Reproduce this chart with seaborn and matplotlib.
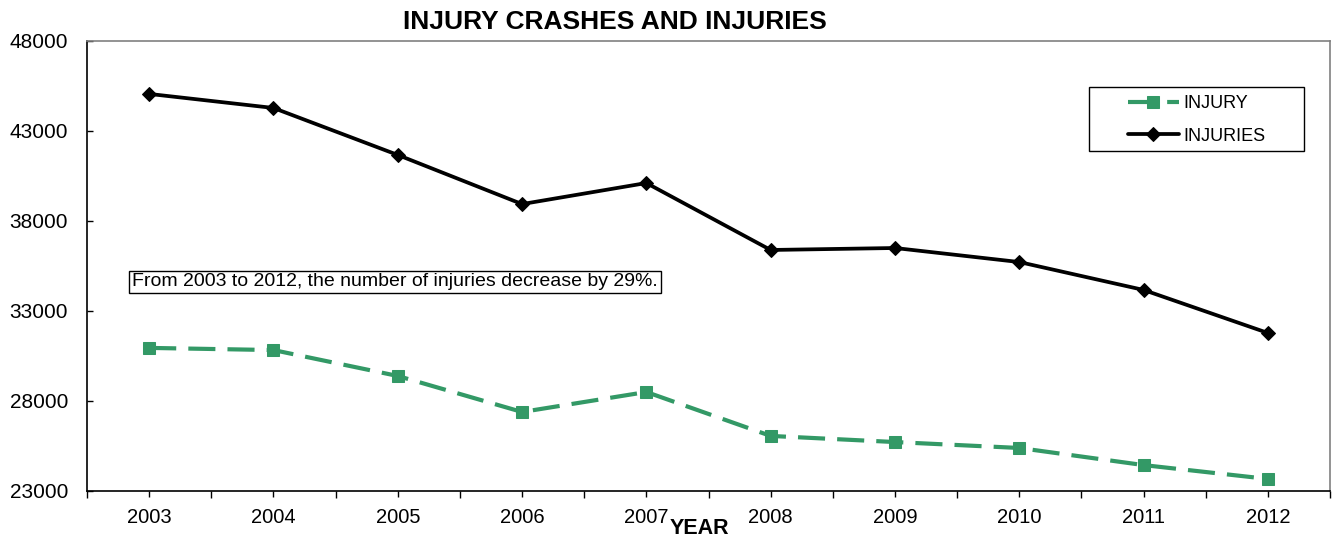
import matplotlib
matplotlib.use("Agg")
import matplotlib.pyplot as plt
from matplotlib.patches import Rectangle
from matplotlib.ticker import FixedLocator
import seaborn as sns
import pandas as pd

years = [2003, 2004, 2005, 2006, 2007, 2008, 2009, 2010, 2011, 2012]
injury = [30950, 30830, 29390, 27390, 28500, 26060, 25720, 25390, 24440, 23670]
injuries = [45060, 44280, 41670, 38940, 40110, 36390, 36500, 35720, 34170, 31780]
y_ticks = [23000, 28000, 33000, 38000, 43000, 48000]

title = "INJURY CRASHES AND INJURIES"
xlabel = "YEAR"
note = "From 2003 to 2012, the number of injuries decrease by 29%."

GREEN = "#339966"

sns.set_style("white")
plt.rcParams["font.family"] = ["Liberation Sans", "DejaVu Sans"]
plt.rcParams["text.color"] = "black"
plt.rcParams["xtick.color"] = "black"
plt.rcParams["ytick.color"] = "black"
plt.rcParams["ytick.direction"] = "in"
plt.rcParams["xtick.direction"] = "out"

W, H = 1335, 541
fig = plt.figure(figsize=(W / 100, H / 100), dpi=100)
ax = fig.add_axes([87 / W, 1 - 491 / H, (1330 - 87) / W, (491 - 41) / H])

df_a = pd.DataFrame({"year": years, "value": injury})
df_b = pd.DataFrame({"year": years, "value": injuries})

sns.lineplot(data=df_a, x="year", y="value", ax=ax, color=GREEN, marker="s",
             markersize=9, markeredgecolor=GREEN, linewidth=3.0,
             linestyle=(0, (6.5, 2.9)), label="INJURY")
sns.lineplot(data=df_b, x="year", y="value", ax=ax, color="black", marker="D",
             markersize=7, markeredgecolor="black", linewidth=2.7,
             label="INJURIES")

ax.set_xlim(years[0] - 0.5, years[-1] + 0.5)
ax.set_ylim(y_ticks[0], y_ticks[-1])
ax.set_yticks(y_ticks)
ax.set_yticklabels([str(v) for v in y_ticks])
ax.set_xticks(years)
ax.set_xticklabels([str(y) for y in years])
ax.xaxis.set_minor_locator(FixedLocator([y - 0.5 for y in years] + [years[-1] + 0.5]))

ax.tick_params(axis="y", which="major", direction="in", length=4.5, width=1,
               colors="black", labelcolor="black", labelsize=15, pad=13.5, left=True)
ax.tick_params(axis="x", which="major", direction="out", length=4.3, width=1,
               colors="black", labelcolor="black", labelsize=14.5, pad=8, bottom=True)
ax.tick_params(axis="x", which="minor", direction="out", length=5, width=1,
               colors="black", bottom=True)

ax.set_xlabel("")
ax.set_ylabel("")

for s in ["left", "bottom"]:
    ax.spines[s].set_color("black")
    ax.spines[s].set_linewidth(1.2)
for s in ["top", "right"]:
    ax.spines[s].set_color("#808080")
    ax.spines[s].set_linewidth(1.2)

# legend (frame drawn separately for Excel-like padding)
leg = ax.legend(loc="center left", bbox_to_anchor=((1128 - 87) / (1330 - 87), (491 - 120) / 450),
                frameon=False, fontsize=13, handlelength=2.8, handletextpad=0.25,
                labelspacing=0.85, borderpad=0, borderaxespad=0)
for t in leg.get_texts():
    t.set_color("black")
fig.patches.append(Rectangle((1089 / W, 1 - 151 / H), (1304 - 1089) / W, (151 - 87) / H,
                             transform=fig.transFigure, fill=False,
                             edgecolor="black", linewidth=1))

fig.text(615 / W, 1 - 22 / H, title, ha="center", va="center",
         fontsize=19, fontweight="bold", color="black")
fig.text(699 / W, 1 - 529 / H, xlabel, ha="center", va="center",
         fontsize=15.5, fontweight="bold", color="black")
fig.text(132 / W, 1 - 282 / H, note, ha="left", va="center", fontsize=14,
         color="black",
         bbox=dict(boxstyle="square,pad=0.15", facecolor="white",
                   edgecolor="black", linewidth=1))

fig.savefig("out.png", dpi=100)
